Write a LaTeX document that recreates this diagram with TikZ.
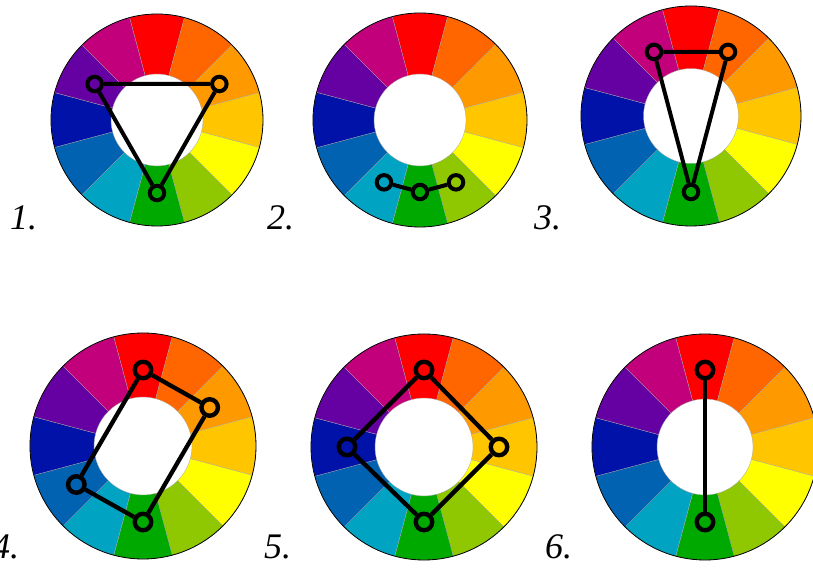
\documentclass[tikz,border=0pt]{standalone}
\usepackage{fontspec}
\setmainfont{Liberation Serif}
\definecolor{cRed}{HTML}{FF0000}
\definecolor{cRedOrange}{HTML}{FF6600}
\definecolor{cOrange}{HTML}{FF9900}
\definecolor{cYellowOrange}{HTML}{FFC600}
\definecolor{cYellow}{HTML}{FFFF00}
\definecolor{cYellowGreen}{HTML}{8FC800}
\definecolor{cGreen}{HTML}{00A900}
\definecolor{cCyan}{HTML}{00A4C2}
\definecolor{cBlue}{HTML}{0062B0}
\definecolor{cDarkBlue}{HTML}{0012A8}
\definecolor{cViolet}{HTML}{6500A2}
\definecolor{cMagenta}{HTML}{C2007C}
\tikzset{
  marker/.style={circle, draw=black, line width=4pt, minimum size=14.5pt, inner sep=0pt},
  bigmarker/.style={marker, line width=4.4pt, minimum size=16.5pt},
  link/.style={draw=black, line width=4pt, line join=round},
  biglink/.style={link, line width=4.3pt},
  numlabel/.style={font=\fontsize{36}{36}\selectfont\itshape, anchor=base west, inner sep=0pt},
}
\newcommand{\colorwheel}[2]{%
  \foreach \c [count=\i from 0] in {cRed,cRedOrange,cOrange,cYellowOrange,cYellow,cYellowGreen,cGreen,cCyan,cBlue,cDarkBlue,cViolet,cMagenta}{
    \pgfmathsetmacro\aa{105-30*\i}
    \pgfmathsetmacro\ab{75-30*\i}
    \fill[\c, draw=black!35, line width=0.3pt] (\aa:#2pt) -- (\aa:#1pt)
      arc[start angle=\aa, end angle=\ab, radius=#1pt] -- (\ab:#2pt)
      arc[start angle=\ab, end angle=\aa, radius=#2pt] -- cycle;
  }
  \draw[black, line width=0.8pt] (0,0) circle[radius=#1pt];
}
\begin{document}
\begin{tikzpicture}[x=1pt,y=1pt]
\useasboundingbox (0,0) rectangle (813,567);
\fill[white] (0,0) rectangle (813,567);

% 1. triad
\begin{scope}[shift={(157,447)}]
  \colorwheel{106}{46}
  \node[marker] (w1a) at (30:72pt) {};
  \node[marker] (w1b) at (150:72pt) {};
  \node[marker] (w1c) at (270:73pt) {};
  \draw[link] (w1a) -- (w1b) -- (w1c) -- (w1a);
\end{scope}

% 2. analogous
\begin{scope}[shift={(420,447)}]
  \colorwheel{107}{46}
  \node[marker] (w2a) at (240:72pt) {};
  \node[marker] (w2b) at (270:72pt) {};
  \node[marker] (w2c) at (300:72pt) {};
  \draw[link] (w2a) -- (w2b) -- (w2c);
\end{scope}

% 3. split complementary
\begin{scope}[shift={(691,451)}]
  \colorwheel{110}{47.5}
  \node[marker] (w3a) at (120:74pt) {};
  \node[marker] (w3b) at (60:74pt) {};
  \node[marker] (w3c) at (270:76pt) {};
  \draw[link] (w3a) -- (w3b) -- (w3c) -- (w3a);
\end{scope}

% 4. rectangle
\begin{scope}[shift={(143,121)}]
  \colorwheel{113}{49}
  \node[bigmarker] (w4a) at (90:76pt) {};
  \node[bigmarker] (w4b) at (30:77pt) {};
  \node[bigmarker] (w4c) at (270:76pt) {};
  \node[bigmarker] (w4d) at (210:77pt) {};
  \draw[biglink] (w4a) -- (w4b) -- (w4c) -- (w4d) -- (w4a);
\end{scope}

% 5. square
\begin{scope}[shift={(424,120)}]
  \colorwheel{113}{49}
  \node[bigmarker] (w5a) at (90:77pt) {};
  \node[bigmarker] (w5b) at (0:75pt) {};
  \node[bigmarker] (w5c) at (270:75pt) {};
  \node[bigmarker] (w5d) at (180:77pt) {};
  \draw[biglink] (w5a) -- (w5b) -- (w5c) -- (w5d) -- (w5a);
\end{scope}

% 6. complementary
\begin{scope}[shift={(705,120)}]
  \colorwheel{113}{48}
  \node[bigmarker] (w6a) at (90:77pt) {};
  \node[bigmarker] (w6b) at (270:75pt) {};
  \draw[biglink] (w6a) -- (w6b);
\end{scope}

\node[numlabel] (l1) at (10,337) {1.};
\node[numlabel] (l2) at (267,337) {2.};
\node[numlabel] (l3) at (534,337) {3.};
\node[numlabel] (l4) at (-8,9) {4.};
\node[numlabel] (l5) at (264,9) {5.};
\node[numlabel] (l6) at (545,9) {6.};
\end{tikzpicture}
\end{document}
